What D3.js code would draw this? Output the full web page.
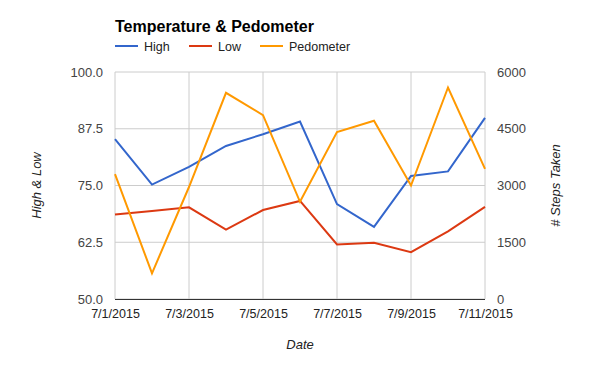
<!DOCTYPE html>
<html><head><meta charset="utf-8">
<script src="https://cdn.jsdelivr.net/npm/d3@7"></script>
<style>body{margin:0;background:#fff;font-family:Arial,"Liberation Sans",sans-serif}</style>
</head><body><svg id="c" width="600" height="371"></svg>
<script>
const dates = ["7/1/2015","7/2/2015","7/3/2015","7/4/2015","7/5/2015","7/6/2015","7/7/2015","7/8/2015","7/9/2015","7/10/2015","7/11/2015"];
const high = [85.2,75.2,79.1,83.7,86.3,89.1,70.9,65.9,77.1,78.1,89.9];
const low = [68.6,69.4,70.2,65.3,69.6,71.6,62.0,62.4,60.3,64.9,70.3];
const steps = [3300,680,2960,5450,4860,2570,4410,4710,3000,5590,3440];
const leftTicks = [50,62.5,75,87.5,100];
const rightTicks = [0,1500,3000,4500,6000];
const xTickLabels = ["7/1/2015","7/3/2015","7/5/2015","7/7/2015","7/9/2015","7/11/2015"];
const seriesNames = ["High","Low","Pedometer"];
const colors = ["#3366cc","#dc3912","#ff9900"];

const svg = d3.select("#c");
const L=115,R=485,T=72,B=299;
const FONT = "Arial,'Liberation Sans',sans-serif";
const parse = d3.timeParse("%m/%d/%Y");
const x = d3.scaleTime().domain([parse(dates[0]),parse(dates[dates.length-1])]).range([L,R]);
const yL = d3.scaleLinear().domain([50,100]).range([B,T]);
const yR = d3.scaleLinear().domain([0,6000]).range([B,T]);

// grid
const g = svg.append("g");
g.selectAll("line.h").data(leftTicks).enter().append("line")
 .attr("x1",L).attr("x2",R).attr("y1",d=>yL(d)).attr("y2",d=>yL(d)).attr("stroke","#ccc");
g.selectAll("line.v").data(xTickLabels).enter().append("line")
 .attr("x1",d=>x(parse(d))).attr("x2",d=>x(parse(d))).attr("y1",T).attr("y2",B).attr("stroke","#ccc");

// left axis
const axL = svg.append("g").attr("transform",`translate(${L-12},0)`)
 .call(d3.axisLeft(yL).tickValues(leftTicks).tickFormat(d3.format(".1f")).tickSize(0).tickPadding(0));
axL.select(".domain").remove();
axL.selectAll("text").attr("fill","#444").style("font-size","13px").style("font-family",FONT);

// right axis
const axR = svg.append("g").attr("transform",`translate(${R+12},0)`)
 .call(d3.axisRight(yR).tickValues(rightTicks).tickFormat(d3.format("d")).tickSize(0).tickPadding(0));
axR.select(".domain").remove();
axR.selectAll("text").attr("fill","#444").style("font-size","13px").style("font-family",FONT);

// x axis
const axX = svg.append("g").attr("transform",`translate(0,${B+7})`)
 .call(d3.axisBottom(x).tickValues(xTickLabels.map(parse)).tickFormat((d,i)=>xTickLabels[i]).tickSize(0).tickPadding(3));
axX.select(".domain").remove();
axX.selectAll("text").attr("fill","#222").style("font-size","12.5px").style("font-family",FONT);

// series
const lineL = d3.line().x((d,i)=>x(parse(dates[i]))).y(d=>yL(d));
const lineR = d3.line().x((d,i)=>x(parse(dates[i]))).y(d=>yR(d));
svg.append("path").attr("d",lineL(high)).attr("fill","none").attr("stroke",colors[0]).attr("stroke-width",2);
svg.append("path").attr("d",lineL(low)).attr("fill","none").attr("stroke",colors[1]).attr("stroke-width",2);
svg.append("path").attr("d",lineR(steps)).attr("fill","none").attr("stroke",colors[2]).attr("stroke-width",2);

// baseline
svg.append("line").attr("x1",L).attr("x2",R).attr("y1",B+0.5).attr("y2",B+0.5).attr("stroke","#333").attr("stroke-width",1);

// title
svg.append("text").attr("x",L).attr("y",32).text("Temperature & Pedometer")
 .style("font-size","16px").style("font-weight","bold").attr("fill","#000");

// legend
const legX = [115,189,260];
seriesNames.forEach((n,i)=>{
  svg.append("line").attr("x1",legX[i]).attr("x2",legX[i]+23).attr("y1",46).attr("y2",46).attr("stroke",colors[i]).attr("stroke-width",2);
  svg.append("text").attr("x",legX[i]+29).attr("y",51).text(n).style("font-size","12.5px").attr("fill","#222");
});

// axis titles
svg.append("text").attr("x",(L+R)/2).attr("y",349).attr("text-anchor","middle").text("Date")
 .style("font-size","13px").style("font-style","italic").attr("fill","#222");
svg.append("text").attr("transform",`translate(41,${(T+B)/2}) rotate(-90)`).attr("text-anchor","middle").text("High & Low")
 .style("font-size","13px").style("font-style","italic").attr("fill","#222");
svg.append("text").attr("transform",`translate(560,${(T+B)/2}) rotate(-90)`).attr("text-anchor","middle").text("# Steps Taken")
 .style("font-size","13px").style("font-style","italic").attr("fill","#222");
</script></body></html>
